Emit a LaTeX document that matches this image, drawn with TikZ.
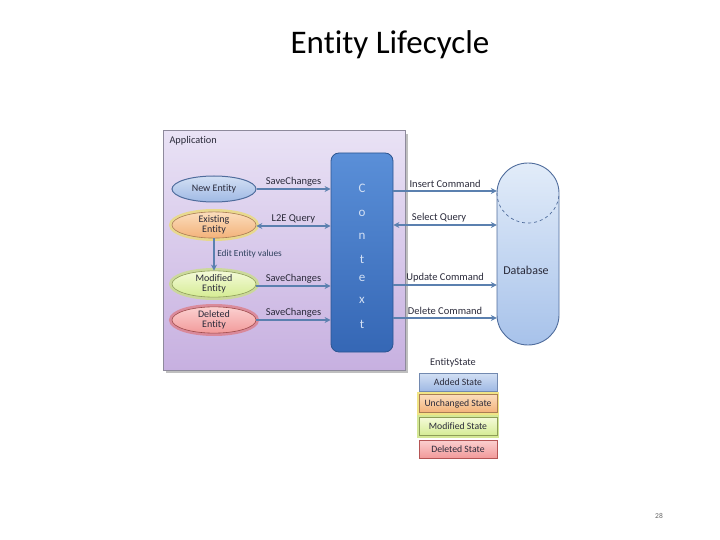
\documentclass[tikz,border=0pt]{standalone}
\usepackage{fontspec}
\setmainfont{Carlito}[RawFeature={-liga;-clig;-dlig}]
\usetikzlibrary{arrows.meta,shapes.geometric}
\definecolor{arr}{HTML}{5B80AF}
\definecolor{appTop}{HTML}{E9E2F5}
\definecolor{appBot}{HTML}{C7B0E0}
\definecolor{appLine}{HTML}{8E8A9C}
\definecolor{ctxTop}{HTML}{5A8FD8}
\definecolor{ctxBot}{HTML}{3567B5}
\definecolor{ctxLine}{HTML}{2C5590}
\definecolor{blueA}{HTML}{D3E0F4}
\definecolor{blueB}{HTML}{9FB9E4}
\definecolor{blueLine}{HTML}{4F6C9C}
\definecolor{orA}{HTML}{FBDDBC}
\definecolor{orB}{HTML}{F3B27A}
\definecolor{glowY}{HTML}{EEDD66}
\definecolor{grA}{HTML}{F4FAD8}
\definecolor{grB}{HTML}{D5EC94}
\definecolor{glowG}{HTML}{C9E27C}
\definecolor{rdA}{HTML}{FBD0D0}
\definecolor{rdB}{HTML}{F29A9A}
\definecolor{glowR}{HTML}{E26A6A}
\definecolor{dbA}{HTML}{E2ECF9}
\definecolor{dbB}{HTML}{A7C2EA}
\definecolor{txt}{HTML}{2A2A3A}
\begin{document}
\begin{tikzpicture}[x=1pt,y=-1pt,
  ent/.style={ellipse,minimum width=84pt,minimum height=26pt,inner sep=0pt,align=center,font=\fontsize{10}{10}\selectfont,text=txt},
  conn/.style={draw=arr,line width=2pt,-{Stealth[length=6pt,width=6pt]}},
  conn2/.style={draw=arr,line width=2pt,{Stealth[length=6pt,width=6pt]}-{Stealth[length=6pt,width=6pt]}},
  lbl/.style={font=\fontsize{10.5}{11}\selectfont,text=txt,inner sep=1pt},
  ctxl/.style={font=\fontsize{13}{13}\selectfont,text=blueA},
  leg/.style={minimum width=78pt,minimum height=18pt,inner sep=0pt,font=\fontsize{9.7}{10}\selectfont,text=txt}
]
\useasboundingbox (0,0) rectangle (720,540);
% title
\node (title) at (390,45) {\fontsize{33}{35}\selectfont Entity Lifecycle};
% application box
\fill[black!25] (166,134) rectangle (408,373);
\node[draw=appLine,line width=1pt,top color=appTop,bottom color=appBot,minimum width=242pt,minimum height=239pt,inner sep=0pt] (app) at (284,250.5) {};
\node[anchor=west,font=\fontsize{10.3}{11}\selectfont,text=txt] (applbl) at (166,141) {Application};
% context
\node[draw=ctxLine,line width=0.8pt,rounded corners=8pt,top color=ctxTop,bottom color=ctxBot,minimum width=62pt,minimum height=199pt,inner sep=0pt] (ctx) at (362,252.5) {};
\node[ctxl] (c1) at (362,188) {C};
\node[ctxl] (c2) at (362,213) {o};
\node[ctxl] (c3) at (362,236) {n};
\node[ctxl] (c4) at (362,259) {t};
\node[ctxl] (c5) at (362,278) {e};
\node[ctxl] (c6) at (362,300) {x};
\node[ctxl] (c7) at (362,324) {t};
% entities
\node[ent,draw=blueLine,line width=1pt,top color=blueA,bottom color=blueB] (ne) at (214,189) {New Entity};
\draw[glowY,line width=4pt,opacity=0.7] (214,225) ellipse (43pt and 14pt);
\node[ent,draw=orB!70!black,line width=0.6pt,top color=orA,bottom color=orB] (ee) at (214,225) {Existing\\Entity};
\draw[glowG,line width=4pt,opacity=0.7] (214,284) ellipse (43pt and 14pt);
\node[ent,draw=glowG!70!black,line width=0.6pt,top color=grA,bottom color=grB] (me) at (214,284) {Modified\\Entity};
\draw[glowR,line width=4pt,opacity=0.6] (214,320) ellipse (43pt and 14pt);
\node[ent,draw=glowR!70!black,line width=0.6pt,top color=rdA,bottom color=rdB] (de) at (214,320) {Deleted\\Entity};
% left arrows
\draw[conn] (ne.east) -- (ne.east -| ctx.west) node[lbl,midway,above=1pt] (l1) {SaveChanges};
\draw[conn2] ([yshift=-1pt]ee.east) -- ([yshift=-1pt]ee.east -| ctx.west) node[lbl,midway,above=1pt] (l2) {L2E Query};
\draw[conn] (ee.south) -- (me.north) node[midway,right=-1pt,font=\fontsize{9.3}{10}\selectfont,text=blueLine!60!black] (l3) {Edit Entity values};
\draw[conn] ([yshift=-2pt]me.east) -- ([yshift=-2pt]me.east -| ctx.west) node[lbl,midway,above=1pt] (l4) {SaveChanges};
\draw[conn] (de.east) -- (de.east -| ctx.west) node[lbl,midway,above=1pt] (l5) {SaveChanges};
% database
\node[minimum width=62pt,minimum height=182pt,inner sep=0pt] (db) at (528,254) {};
\draw[blueLine,line width=0.9pt,top color=dbA,bottom color=dbB]
  (497,193) arc[start angle=180,end angle=0,x radius=31pt,y radius=30pt]
  -- (559,315) arc[start angle=0,end angle=-180,x radius=31pt,y radius=30pt] -- cycle;
\draw[blueLine,line width=0.7pt,dashed] (497,193) arc[start angle=180,end angle=360,x radius=31pt,y radius=30pt];
\node[font=\fontsize{12}{13}\selectfont,text=txt] (dblbl) at (526,270) {Database};
% right arrows
\coordinate (r1) at (ctx.east |- 0,191);
\coordinate (r2) at (ctx.east |- 0,225);
\coordinate (r3) at (ctx.east |- 0,285);
\coordinate (r4) at (ctx.east |- 0,318);
\draw[conn] (r1) -- (r1 -| db.west) node[lbl,midway,above=1pt] (m1) {Insert Command};
\draw[conn2] (r2) -- (r2 -| db.west) node[lbl,midway,above=1pt,xshift=-6pt] (m2) {Select Query};
\draw[conn] (r3) -- (r3 -| db.west) node[lbl,midway,above=1pt] (m3) {Update Command};
\draw[conn] (r4) -- (r4 -| db.west) node[lbl,midway,above=1pt] (m4) {Delete Command};
% legend
\node[font=\fontsize{10.3}{11}\selectfont,text=txt] (es) at (453,363) {EntityState};
\node[leg,draw=blueLine!80,line width=0.8pt,top color=blueA,bottom color=blueB] (s1) at (458,382) {Added State};
\fill[glowY,opacity=0.8] (417,392) rectangle (499,415);
\node[leg,draw=orB!70!black,line width=0.5pt,top color=orA,bottom color=orB] (s2) at (458,403.5) {Unchanged State};
\fill[glowG,opacity=0.8] (417,415) rectangle (499,438);
\node[leg,draw=glowG!70!black,line width=0.5pt,top color=grA,bottom color=grB] (s3) at (458,426.5) {Modified State};
\node[leg,draw=glowR!80!black,line width=0.6pt,top color=rdA,bottom color=rdB] (s4) at (458,449) {Deleted State};
% page number
\node[font=\fontsize{7.5}{8}\selectfont,text=black!60] (pg) at (659,516) {28};
\end{tikzpicture}
\end{document}
